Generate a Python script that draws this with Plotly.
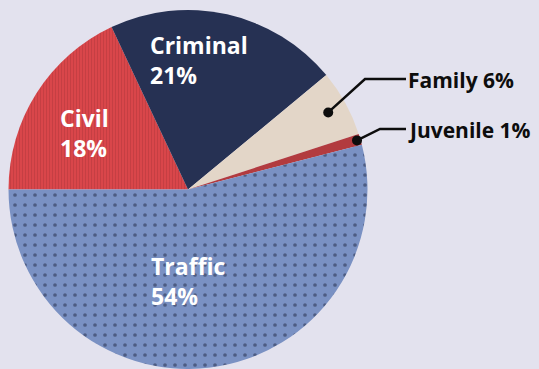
import math
import plotly.graph_objects as go

# ---- data ----
labels = ["Civil", "Criminal", "Family", "Juvenile", "Traffic"]
values = [18, 21, 6, 1, 54]
colors = ["#db474b", "#263153", "#e3d6c8", "#b23b3f", "#7a91c3"]

W, H = 539, 369
BG = "#e3e2ee"

# pie placement (pixels)
cx, cy, R = 188, 189.5, 179.5
dom_x = [(cx - R) / W, (cx + R) / W]
dom_y = [(H - cy - R) / H, (H - cy + R) / H]
dom_y = [max(0, dom_y[0]), min(1, dom_y[1])]

ROT = 270  # first slice starts at 9 o'clock, clockwise

patterns = dict(
    shape=["|", "", "", "", "."],
    fgcolor=["#b0373c", "#263153", "#e3d6c8", "#b23b3f", "#1f2744"],
    bgcolor=colors,
    size=[3, 8, 8, 8, 10],
    solidity=[0.4, 0.1, 0.1, 0.1, 0.11],
    fillmode="overlay",
)

fig = go.Figure(go.Pie(
    labels=labels, values=values, sort=False, direction="clockwise",
    rotation=ROT, textinfo="none", hoverinfo="label+percent",
    marker=dict(colors=colors, line=dict(width=0), pattern=patterns),
    domain=dict(x=dom_x, y=dom_y), showlegend=False,
))

def px(x):
    return x / W

def py(y):
    return 1 - y / H

FONT = "Open Sans"
annotations = []
shapes = []

# inside labels
inside = [("Criminal", 21, 148, 60), ("Civil", 18, 58, 133), ("Traffic", 54, 149, 281)]
for name, v, x, y in inside:
    annotations.append(dict(
        x=px(x), y=py(y), xref="paper", yref="paper", xanchor="left", yanchor="middle",
        align="left", showarrow=False,
        text=f"<b>{name}<br>{v}%</b>",
        font=dict(family=FONT, size=23, color="white"),
    ))

# outside labels with leader lines
total = sum(values)
cum = 0
mids = {}
for l, v in zip(labels, values):
    mids[l] = ROT + (cum + v / 2) / total * 360
    cum += v

outside = [("Family", 160, 365, 79), ("Juvenile", 176, 380, 129)]
for name, rr, ex, ey in outside:
    a = math.radians(mids[name])
    dx = cx + rr * math.sin(a)
    dy = cy - rr * math.cos(a)
    v = values[labels.index(name)]
    shapes.append(dict(
        type="path", xref="paper", yref="paper",
        path=f"M {px(dx)} {py(dy)} L {px(ex)} {py(ey)} L {px(406)} {py(ey)}",
        line=dict(color="#0d0d0d", width=2.5),
    ))
    shapes.append(dict(
        type="circle", xref="paper", yref="paper",
        x0=px(dx - 5), x1=px(dx + 5), y0=py(dy + 5), y1=py(dy - 5),
        fillcolor="#0d0d0d", line=dict(width=0),
    ))
    annotations.append(dict(
        x=px(406), y=py(ey + 1), xref="paper", yref="paper", xanchor="left", yanchor="middle",
        showarrow=False, text=f"<b>{name} {v}%</b>",
        font=dict(family=FONT, size=21, color="#0d0d0d"),
    ))

fig.update_layout(
    width=W, height=H, margin=dict(l=0, r=0, t=0, b=0),
    paper_bgcolor=BG, plot_bgcolor=BG,
    annotations=annotations, shapes=shapes,
)

fig.write_html("out.html")
